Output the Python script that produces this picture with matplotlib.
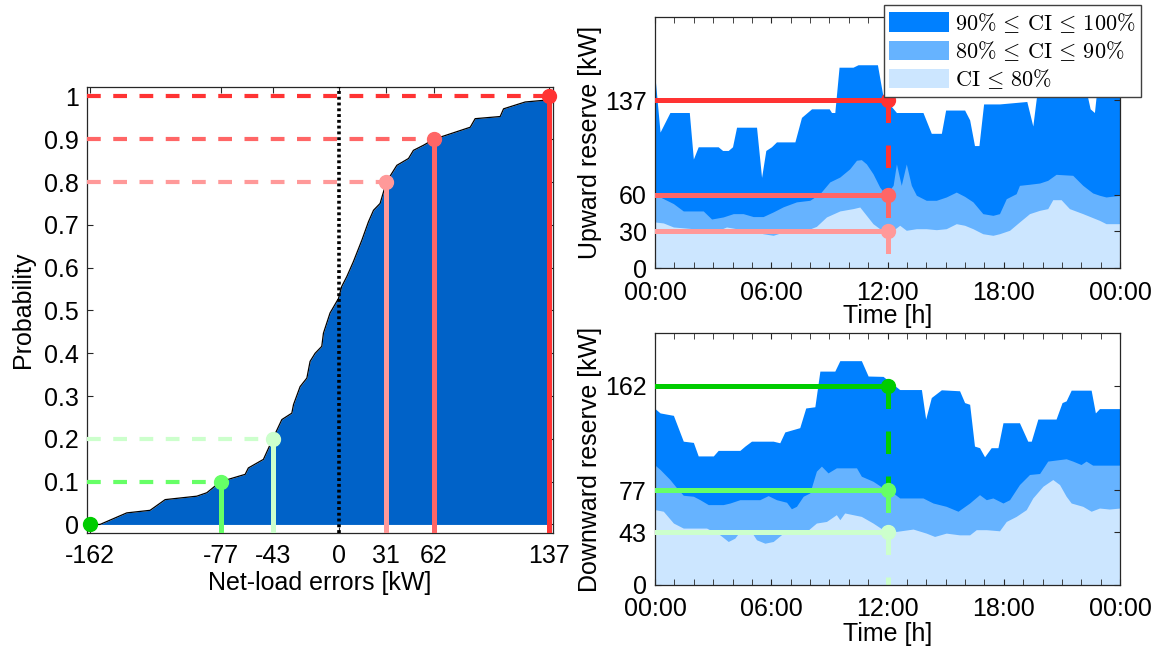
import numpy as np
import matplotlib
matplotlib.use("Agg")
import matplotlib.pyplot as plt
from matplotlib.patches import Patch

plt.rcParams['font.family'] = ['Liberation Sans', 'DejaVu Sans']
plt.rcParams['mathtext.fontset'] = 'cm'
plt.rcParams['font.size'] = 18

# ---- data: empirical CDF of net-load errors ----
err_kw = [-162, -155.5, -138.1, -122.9, -113.1, -92.5, -86.0, -77, -61.0, -58.9,
          -49.1, -43, -37.1, -30.6, -29.5, -25.2, -20.8, -18.7, -15.4, -11.1,
          -10.0, -5.7, -0.2, 1.9, 5.2, 9.5, 15.0, 19.3, 22.6, 26.9,
          31, 37.8, 45.4, 48.6, 55.2, 62, 85.6, 88.8, 105.1, 107.3,
          121.4, 137, 137]
prob = [0, 0, 0.027, 0.033, 0.058, 0.066, 0.074, 0.1, 0.117, 0.132,
        0.152, 0.2, 0.245, 0.26, 0.28, 0.322, 0.342, 0.381, 0.4, 0.416,
        0.447, 0.494, 0.528, 0.556, 0.579, 0.614, 0.664, 0.707, 0.734, 0.75,
        0.8, 0.839, 0.855, 0.874, 0.886, 0.9, 0.928, 0.948, 0.953, 0.971,
        0.987, 0.992, 1.0]

# quantile points shown on the CDF
q_err = [-162, -77, -43, 31, 62, 137]
q_prob = [0, 0.1, 0.2, 0.8, 0.9, 1.0]
q_colors = ['#00cc00', '#66ff66', '#ccffcc', '#ff9999', '#ff6666', '#ff3333']
err_ticks = [-162, -77, -43, 0, 31, 62, 137]

# ---- data: upward reserve bands (time in hours) ----
up100_t = [0, 0.26, 0.77, 1.77, 1.98, 2.23, 3.26, 3.49, 3.78, 4.0, 4.21, 5.24, 5.5, 5.72,
           6.01, 6.27, 7.22, 7.56, 8.08, 8.99, 9.11, 9.28, 9.5, 10.22, 10.48, 11.48,
           11.77, 12.46, 13.83, 14.26, 14.78, 15.0, 15.98, 16.24, 16.49, 16.72, 16.96,
           17.78, 19.19, 19.5, 19.81, 21.22, 22.25, 22.46, 22.68, 22.9, 24]
up100 = [156, 111, 127, 127, 89, 99, 99, 96, 96, 99, 115, 115, 74, 96,
         99, 103, 103, 123, 130, 130, 127, 127, 164, 164, 166, 166,
         140, 127, 127, 110, 110, 129, 129, 121, 100, 100, 134,
         134, 136, 116, 155, 145, 145, 130, 127, 160, 165]
up90_t = [0, 0.26, 0.95, 1.46, 1.98, 2.49, 2.92, 3.52, 4.04, 4.55, 5.07, 5.58, 6.1, 6.62,
          7.3, 7.99, 8.51, 9.02, 9.54, 10.05, 10.4, 10.65, 10.91, 11.25, 11.6, 11.86,
          12.03, 12.29, 12.46, 12.71, 12.97, 13.23, 13.49, 14.0, 14.52, 15.03, 15.55,
          15.98, 16.41, 16.92, 17.44, 17.78, 18.13, 18.64, 18.81, 19.33, 19.85, 20.27,
          20.7, 21.56, 22.08, 22.59, 22.94, 23.28, 24]
up90 = [59.4, 58, 52.6, 46.6, 46.6, 46.6, 40, 41.7, 44.4, 44.4, 42, 42, 45.8, 50,
        54, 55.3, 60.7, 70.3, 74.3, 81, 88, 88.5, 85, 77, 66, 60.7,
        62, 67.5, 85, 67.5, 85, 67.5, 59.4, 55.3, 55.3, 58, 62,
        58.5, 54, 44.4, 43, 44.4, 56.6, 60.7, 67.5, 68.4, 69.4, 71.6,
        76.5, 75.7, 67.5, 61.3, 59.4, 58, 59.4]
up80_t = [0, 0.43, 0.95, 1.98, 2.66, 3.18, 3.69, 4.21, 4.9, 5.58, 6.1, 6.62, 7.3, 7.82,
          8.33, 8.85, 9.54, 10.22, 10.57, 10.91, 11.25, 11.6, 11.94, 12.29, 12.63, 12.97,
          13.49, 14.0, 14.52, 15.03, 15.55, 15.98, 16.41, 16.92, 17.44, 17.78, 18.3,
          18.81, 19.33, 19.85, 20.27, 20.53, 20.96, 21.39, 22.08, 22.94, 23.28, 24]
up80 = [37.6, 36.8, 33.5, 32.1, 32.1, 30.2, 33.5, 32.1, 30.8, 28, 26.7, 29.4, 30.2, 30.8,
        34, 41.7, 46.6, 48.5, 49.8, 43, 36.2, 32.1, 29.4, 30.8, 34.9, 30.8,
        32.1, 32.1, 31.3, 32.1, 36.2, 34.9, 32.1, 28, 26.7, 28, 30.8,
        37.6, 44.4, 47.1, 48.5, 55.8, 55.8, 48.5, 44.4, 38.9, 36.2, 36.2]
up_levels = [137, 60, 30]
up_ticks = [0, 30, 60, 137]
up_colors = ['#ff3333', '#ff6666', '#ff9999']

# ---- data: downward reserve bands ----
dn100_t = [0, 0.26, 0.95, 1.46, 1.98, 2.23, 3.01, 3.26, 4.38, 4.64, 4.98, 6.1, 6.44, 6.7,
           7.47, 7.78, 8.25, 8.51, 9.28, 9.54, 10.65, 11.0, 11.77, 12.63, 13.75, 13.97,
           14.26, 14.78, 15.72, 15.98, 16.24, 16.49, 16.75, 17.01, 17.35, 17.7, 17.96,
           18.81, 19.24, 19.42, 19.76, 20.7, 21.01, 21.22, 21.48, 22.51, 22.73, 22.94, 24]
dn100 = [143.5, 140, 138, 117, 116, 105, 105, 109.5, 109.5, 113, 117, 117, 115.7, 124.5,
         128, 144, 145, 174, 174, 182.5, 182.5, 170, 169.7, 159, 159, 135,
         152.5, 158.8, 158, 148.4, 147, 113, 111.7, 104.3, 111.7, 111.7, 132,
         132, 117, 117, 135, 135, 148.4, 149.8, 158.5, 158.5, 140, 143.5, 143.5]
dn90_t = [0, 0.26, 0.77, 1.12, 1.46, 1.98, 2.32, 2.75, 3.52, 3.87, 4.38, 5.41, 5.84, 6.27,
          6.79, 7.04, 7.3, 7.65, 7.99, 8.33, 8.59, 8.93, 9.36, 10.4, 10.65, 11.25, 11.77,
          12.29, 12.63, 13.83, 14.35, 15.03, 15.64, 16.24, 16.75, 17.1, 17.44, 17.96,
          18.3, 18.81, 19.33, 19.85, 20.27, 21.22, 21.56, 21.99, 22.25, 22.59, 24]
dn90 = [97.5, 94, 85.8, 79, 73, 72.2, 69.4, 65.4, 65.4, 66.7, 69.4, 69.4, 72.7, 69.4,
        67.3, 62, 64, 72.2, 74.9, 92.6, 96.7, 91.2, 95.3, 95.3, 88.5, 84.4, 79,
        74.9, 70.8, 70.8, 66.7, 64, 60, 66.7, 73.5, 69.4, 70.8, 66.7,
        69.4, 81.7, 89.9, 90.7, 100.8, 102.7, 100.8, 98, 100.8, 97.5, 97.5]
dn80_t = [0, 0.43, 0.95, 1.46, 2.66, 3.35, 3.78, 4.12, 4.38, 4.9, 5.24, 5.67, 6.1, 6.62,
          7.13, 7.82, 8.33, 8.85, 9.36, 9.54, 9.79, 10.22, 10.65, 11.25, 11.77, 12.46,
          13.32, 14.0, 14.43, 15.03, 15.72, 16.24, 16.58, 17.1, 17.78, 18.13, 18.64,
          19.16, 19.5, 20.02, 20.53, 20.88, 21.22, 21.48, 22.08, 22.51, 22.94, 23.45, 24]
dn80 = [61.3, 60, 50.4, 46.3, 46.3, 40.8, 35.4, 38.1, 43.6, 45, 36.8, 34, 35.4, 42.2,
        43.6, 43.6, 50.4, 51.7, 57.2, 53.1, 58.6, 57.2, 55.8, 50.4, 45, 43.6,
        45.5, 42.2, 39.5, 42.2, 40.8, 40.8, 45, 45, 44.1, 51.7, 55.8,
        61.3, 70.8, 80.3, 85.8, 81.7, 72.2, 66.7, 64, 60, 62.6, 61.8, 62.6]
dn_levels = [162, 77, 43]
dn_ticks = [0, 43, 77, 162]
dn_colors = ['#00cc00', '#66ff66', '#ccffcc']

band_colors = ['#0080ff', '#66b3ff', '#cce6ff']
band_labels = [r'$90\%\,\leq\,\mathrm{CI}\,\leq\,100\%$',
               r'$80\%\,\leq\,\mathrm{CI}\,\leq\,90\%$',
               r'$\mathrm{CI}\,\leq\,80\%$']
hour_ticks = [0, 6, 12, 18, 24]
hour_labels = ['00:00', '06:00', '12:00', '18:00', '00:00']
t_mark = 12

spine_col = '#262626'
W, H = 1151, 646
fig = plt.figure(figsize=(W / 100, H / 100), dpi=100)


def style_axes(ax, xpad=8):
    for s in ax.spines.values():
        s.set_color(spine_col)
        s.set_linewidth(0.9)
    ax.tick_params(direction='in', top=True, right=True, length=4,
                   color=spine_col, labelsize=18)
    ax.tick_params(axis='x', pad=xpad)
    ax.tick_params(axis='y', pad=6)


# ---- left: CDF ----
ax = fig.add_axes([87 / W, 1 - 533 / H, 466 / W, 446 / H])
ylo = -0.02
ax.fill_between(err_kw, prob, 0, color='#0062c8', lw=0, zorder=1)
ax.plot(err_kw, prob, color='black', lw=0.9, zorder=2)
for x, p, c in zip(q_err, q_prob, q_colors):
    if p > 0:
        ax.plot([-164, x], [p, p], color=c, lw=3, ls=(0, (3.3, 3)), zorder=3)
        ax.plot([x, x], [ylo, p], color=c, lw=3.6, zorder=4)
    ax.plot(x, p, 'o', color=c, ms=10, zorder=6, clip_on=False)
ax.axvline(0, color='black', lw=2.6, ls=(0, (0.8, 0.8)), zorder=5)
ax.set_xlim(-164, 139.5)
ax.set_ylim(ylo, 1.022)
ax.set_xticks(err_ticks)
ax.set_xticklabels([str(v) for v in err_ticks])
ax.set_yticks(np.arange(0, 1.01, 0.1))
ax.set_yticklabels(['0'] + ['%.1f' % v for v in np.arange(0.1, 0.95, 0.1)] + ['1'])
ax.set_xlabel('Net-load errors [kW]', fontsize=18, labelpad=2)
ax.set_ylabel('Probability', fontsize=18, labelpad=6)
style_axes(ax)


# ---- right: reserve plots ----
def reserve_plot(ax, bands, levels, colors, ticks, ylabel):
    for (t, v), bc in zip(bands, band_colors):
        ax.fill_between(t, v, 0, color=bc, lw=0, zorder=1)
    for lv, c in zip(levels, colors):
        ax.plot([0, t_mark], [lv, lv], color=c, lw=3.6, zorder=3)
    bottoms = levels[1:] + [0]
    for top, bot, c in zip(levels, bottoms, colors):
        ax.plot([t_mark, t_mark], [top, bot], color=c, lw=3.6,
                ls=(0, (4.5, 4.5)), zorder=2)
    for lv, c in zip(levels, colors):
        ax.plot(t_mark, lv, 'o', color=c, ms=10, zorder=4)
    ax.set_xlim(0, 24)
    ax.set_ylim(0, 205)
    ax.set_xticks(hour_ticks)
    ax.set_xticklabels(hour_labels)
    ax.set_xticks(np.arange(0, 25, 1), minor=True)
    ax.set_yticks(ticks)
    ax.set_yticklabels([str(v) for v in ticks])
    ax.set_xlabel('Time [h]', fontsize=18, labelpad=0)
    ax.set_ylabel(ylabel, fontsize=18, labelpad=2)
    style_axes(ax, xpad=9)
    ax.tick_params(which='minor', direction='in', top=True, length=4, color=spine_col)


ax_up = fig.add_axes([655 / W, 1 - 268 / H, 465 / W, 251 / H])
reserve_plot(ax_up, [(up100_t, up100), (up90_t, up90), (up80_t, up80)],
             up_levels, up_colors, up_ticks, 'Upward reserve [kW]')

ax_dn = fig.add_axes([655 / W, 1 - 585 / H, 465 / W, 252 / H])
reserve_plot(ax_dn, [(dn100_t, dn100), (dn90_t, dn90), (dn80_t, dn80)],
             dn_levels, dn_colors, dn_ticks, 'Downward reserve [kW]')

handles = [Patch(facecolor=c, edgecolor='none') for c in band_colors]
leg = fig.legend(handles, band_labels, loc='upper right',
                 bbox_to_anchor=(1141 / W, 1 - 5 / H), fontsize=16,
                 frameon=True, fancybox=False, edgecolor='#404040', framealpha=1,
                 handlelength=2.7, handleheight=0.95, handletextpad=0.25,
                 labelspacing=0.2, borderpad=0.25, borderaxespad=0)
leg.get_frame().set_linewidth(1.0)

fig.savefig('out.png', dpi=100)
